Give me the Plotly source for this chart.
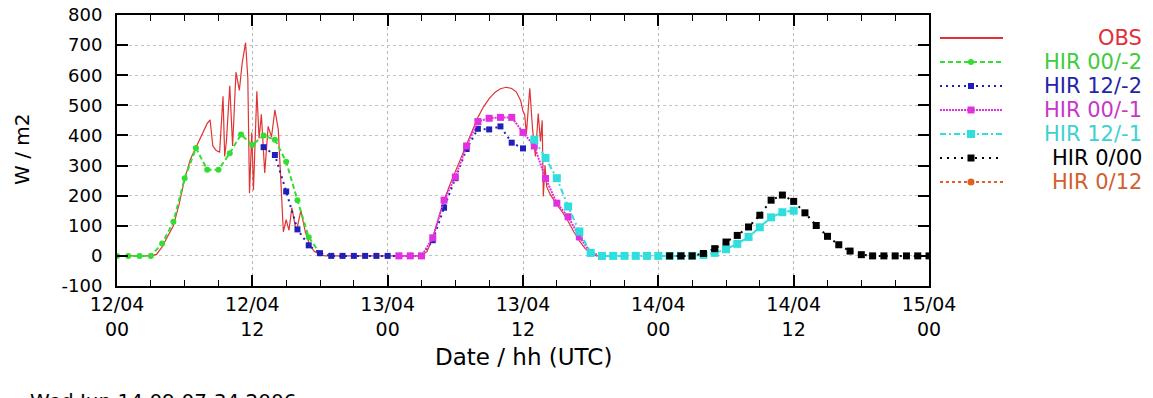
import plotly.graph_objects as go

# ---------------- data (hours since 12/04 00 UTC) ----------------
obs_hours = [0, 1, 2, 3, 3.5, 4, 4.5, 5, 5.5, 6, 6.5, 7, 7.5, 8, 8.25, 8.5, 8.8, 9.1, 9.4, 9.55, 9.7,
             10.0, 10.25, 10.55, 10.85, 11.1, 11.4, 11.6, 11.75, 11.95, 12.1, 12.4, 12.6, 12.8,
             13.1, 13.4, 13.7, 14.0, 14.3, 14.6, 14.75, 15.0, 15.25, 15.5, 15.9, 16.3, 16.7,
             17.1, 17.5, 18.0, 18.5, 27.0, 27.5, 28.0, 28.5, 29.0, 29.5, 30.0, 30.5, 31.0, 31.5,
             32.0, 32.5, 33.0, 33.5, 34.0, 34.5, 35.0, 35.4, 35.8, 36.0, 36.15, 36.3, 36.45, 36.6,
             36.85, 37.1, 37.35, 37.55, 37.7, 37.8, 37.95, 38.1, 38.4, 38.7, 39.0, 39.5, 40.0,
             40.5, 41.0, 41.5, 42.0, 42.5, 44.0]
obs_values = [0, 0, 0, 0, 5, 30, 65, 100, 170, 255, 320, 360, 405, 440, 452, 365, 350, 345, 530, 330, 380,
              565, 365, 610, 550, 640, 708, 590, 208, 410, 218, 547, 390, 470,
              275, 430, 395, 485, 420, 185, 80, 120, 85, 160, 80, 150, 80,
              35, 15, 3, 0, 0, 15, 60, 120, 185, 235, 280, 330, 375, 420,
              460, 495, 522, 543, 555, 560, 556, 545, 515, 480, 470, 405, 470, 557,
              420, 330, 473, 380, 450, 197, 300, 230, 205, 185, 170, 145, 115,
              80, 50, 25, 8, 0, 0]

hir_00m2_hours = list(range(0, 19))
hir_00m2_values = [0, 0, 0, 0, 41, 113, 258, 358, 286, 286, 341, 403, 368, 400, 386, 313, 185, 62, 8]

hir_12m2_hours = list(range(13, 37))
hir_12m2_values = [361, 335, 214, 88, 35, 9, 0, 0, 0, 0, 0, 0, 0, 0, 0,
                   52, 160, 258, 355, 422, 420, 430, 376, 357]

hir_00m1_hours = list(range(25, 44))
hir_00m1_values = [0, 0, 0, 60, 185, 262, 365, 446, 457, 460, 460, 410, 365, 257, 175, 130, 63, 10, 0]

hir_12m1_hours = list(range(37, 61))
hir_12m1_values = [386, 325, 258, 164, 81, 10, 0, 0, 0, 0, 0, 0, 0, 0, 0, 3, 10, 22, 40, 63, 95,
                   128, 145, 150]

hir_000_hours = list(range(49, 73))
hir_000_values = [0, 0, 0, 8, 24, 46, 68, 96, 135, 185, 202, 181, 143, 101, 65, 37, 16, 4, 0, 0, 0, 0, 0, 0]

hir_012_hours = []
hir_012_values = []

x_tick_hours = [0, 12, 24, 36, 48, 60, 72]
x_tick_labels = ["12/04<br>00", "12/04<br>12", "13/04<br>00", "13/04<br>12",
                 "14/04<br>00", "14/04<br>12", "15/04<br>00"]
y_tick_values = [-100, 0, 100, 200, 300, 400, 500, 600, 700, 800]
y_tick_labels = ["-100", "0", "100", "200", "300", "400", "500", "600", "700", "800"]
series_names = ["OBS", "HIR 00/-2", "HIR 12/-2", "HIR 00/-1", "HIR 12/-1", "HIR 0/00", "HIR 0/12"]

# ---------------- styles ----------------
W, H = 1153, 398
ML, MR, MT, MB = 117, 224, 15, 112
PW, PH = W - ML - MR, H - MT - MB
FONT = "DejaVu Sans"

styles = [
    dict(color="#e03434", text="#e0303a", dash="solid", symbol=None, msize=0, width=1.2),
    dict(color="#33dd33", text="#3ccc3c", dash="5px,3px", symbol="circle", msize=6, width=2),
    dict(color="#2020b8", text="#2424a8", dash="2px,4px", symbol="square", msize=6, width=2),
    dict(color="#e030e0", text="#c838c8", dash="2px,1px", symbol="square", msize=7, width=2),
    dict(color="#30dede", text="#40d0d0", dash="6px,3px,2px,3px", symbol="square", msize=8, width=2),
    dict(color="#000000", text="#000000", dash="2px,5px", symbol="square", msize=7, width=2),
    dict(color="#e06020", text="#d06030", dash="3px,3px", symbol="circle", msize=7, width=2),
]

data = [
    (obs_hours, obs_values),
    (hir_00m2_hours, hir_00m2_values),
    (hir_12m2_hours, hir_12m2_values),
    (hir_00m1_hours, hir_00m1_values),
    (hir_12m1_hours, hir_12m1_values),
    (hir_000_hours, hir_000_values),
    (hir_012_hours, hir_012_values),
]

fig = go.Figure()
for (xs, ys), st, nm in zip(data, styles, series_names):
    if st["symbol"] is None:
        fig.add_trace(go.Scatter(x=xs, y=ys, mode="lines", name=nm,
                                 line=dict(color=st["color"], width=st["width"])))
    else:
        fig.add_trace(go.Scatter(x=xs, y=ys, mode="lines+markers", name=nm,
                                 line=dict(color=st["color"], width=st["width"], dash=st["dash"]),
                                 marker=dict(symbol=st["symbol"], size=st["msize"], color=st["color"])))


def px_x(px):
    return (px - ML) / PW


def px_y(py):
    return (H - MB - py) / PH


shapes = []
annotations = []
for i, (st, nm) in enumerate(zip(styles, series_names)):
    yy = px_y(38 + 24 * i)
    shapes.append(dict(type="line", xref="paper", yref="paper", x0=px_x(940), x1=px_x(1003),
                       y0=yy, y1=yy, line=dict(color=st["color"], width=st["width"] if i else 2,
                                               dash=st["dash"])))
    if st["symbol"] is not None:
        h = st["msize"] / 2
        shapes.append(dict(type="rect" if st["symbol"] == "square" else "circle",
                           xref="paper", yref="paper",
                           x0=px_x(971 - h), x1=px_x(971 + h), y0=px_y(38 + 24 * i + h),
                           y1=px_y(38 + 24 * i - h), fillcolor=st["color"], line=dict(width=0)))
    annotations.append(dict(text=nm, xref="paper", yref="paper", x=px_x(1144), y=yy,
                            xanchor="right", yanchor="middle", showarrow=False,
                            font=dict(family=FONT, size=21, color=st["text"])))

annotations.append(dict(text="W / m2", xref="paper", yref="paper", x=px_x(22), y=px_y(150),
                        textangle=-90, xanchor="center", yanchor="middle", showarrow=False,
                        font=dict(family=FONT, size=20, color="#000")))
annotations.append(dict(text="Date / hh (UTC)", xref="paper", yref="paper", x=px_x(523), y=px_y(357),
                        xanchor="center", yanchor="middle", showarrow=False,
                        font=dict(family=FONT, size=23, color="#000")))
annotations.append(dict(text="Wed Jun 14 09:07:34 2006", xref="paper", yref="paper", x=px_x(28),
                        y=px_y(387), xanchor="left", yanchor="top", showarrow=False,
                        font=dict(family=FONT, size=20, color="#000")))

fig.update_layout(
    width=W, height=H,
    margin=dict(l=ML, r=MR, t=MT, b=MB, autoexpand=False),
    paper_bgcolor="white", plot_bgcolor="white",
    showlegend=False,
    font=dict(family=FONT, color="#000"),
    shapes=shapes, annotations=annotations,
    xaxis=dict(range=[0, 72], tickmode="array", tickvals=x_tick_hours, ticktext=x_tick_labels,
               ticks="inside", ticklen=11, tickwidth=1.5, tickcolor="#000",
               showline=True, linecolor="#000", linewidth=2, mirror="allticks",
               showgrid=True, gridcolor="#b8b8b8", griddash="dot", gridwidth=1,
               zeroline=False, tickfont=dict(family=FONT, size=19, color="#000"),
               ticklabelstandoff=0,
               minor=dict(dtick=3, tick0=0, ticks="inside", ticklen=6, tickwidth=1.2,
                          tickcolor="#000", showgrid=False)),
    yaxis=dict(range=[-100, 800], tickmode="array", tickvals=y_tick_values, ticktext=y_tick_labels,
               ticks="inside", ticklen=11, tickwidth=1.5, tickcolor="#000",
               showline=True, linecolor="#000", linewidth=2, mirror="allticks",
               showgrid=True, gridcolor="#c4c4c4", griddash="dot", gridwidth=1,
               zeroline=False, tickfont=dict(family=FONT, size=18, color="#000"),
               ticklabelstandoff=9),
)

fig.write_html("out.html", config={"displayModeBar": False},
               post_script="document.body.style.margin='0px';document.body.style.overflow='hidden';")
